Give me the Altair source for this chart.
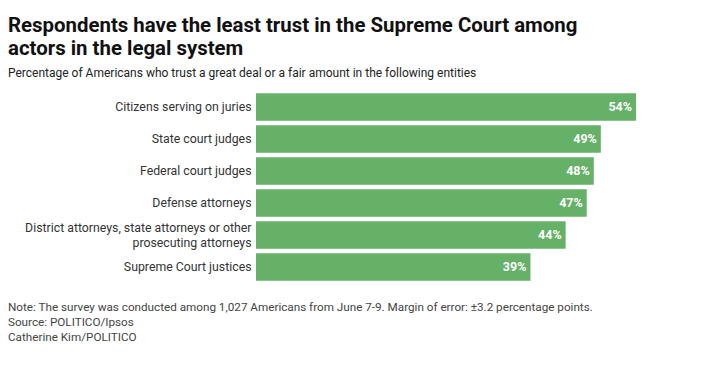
import altair as alt
import pandas as pd

FONT = "Roboto, sans-serif"

categories = [
    "Citizens serving on juries",
    "State court judges",
    "Federal court judges",
    "Defense attorneys",
    "District attorneys, state attorneys or other|prosecuting attorneys",
    "Supreme Court justices",
]
values = [54, 49, 48, 47, 44, 39]
value_labels = ["54%", "49%", "48%", "47%", "44%", "39%"]

title_lines = [
    "Respondents have the least trust in the Supreme Court among",
    "actors in the legal system",
]
subtitle = "Percentage of Americans who trust a great deal or a fair amount in the following entities"
footer_lines = [
    "Note: The survey was conducted among 1,027 Americans from June 7-9. Margin of error: \u00b13.2 percentage points.",
    "Source: POLITICO/Ipsos",
    "Catherine Kim/POLITICO",
]

df = pd.DataFrame({"category": categories, "value": values, "label": value_labels})

GREEN = "#65b168"

base = alt.Chart(df).encode(
    y=alt.Y(
        "category:N",
        sort=categories,
        scale=alt.Scale(paddingInner=0.14, paddingOuter=0.1),
        axis=alt.Axis(
            title=None,
            domain=False,
            ticks=False,
            grid=False,
            labelPadding=5,
            labelFont=FONT,
            labelFontSize=12.3,
            labelColor="#333333",
            labelLimit=400,
            labelLineHeight=15,
            labelExpr="split(datum.label, '|')",
            labelOffset={"condition": {"test": "indexof(datum.value, '|') >= 0", "value": -7}, "value": 0},
            minExtent=248,
            maxExtent=248,
        ),
    ),
    x=alt.X("value:Q", axis=None, scale=alt.Scale(domain=[0, 54], nice=False, zero=True)),
)

bars = base.mark_bar(color=GREEN)
texts = base.mark_text(
    align="right", baseline="middle", dx=-4, color="white",
    font=FONT, fontSize=12.5, fontWeight="bold",
).encode(text="label:N")

footer_layers = []
for i, line in enumerate(footer_lines):
    footer_layers.append(
        alt.Chart(pd.DataFrame({"t": [line]})).mark_text(
            align="left", baseline="alphabetic", font=FONT, fontSize=11.7, color="#444444",
        ).encode(text="t:N", x=alt.value(-248), y=alt.value(221 + 15 * i))
    )

chart = alt.layer(bars, texts, *footer_layers).properties(
    width=380,
    height=194,
    padding={"left": 0, "top": 8, "right": 5, "bottom": 5},
    title=alt.TitleParams(
        text=title_lines,
        subtitle=subtitle,
        anchor="start",
        frame="bounds",
        font=FONT,
        fontSize=20.4,
        fontWeight="bold",
        lineHeight=22.5,
        color="#111111",
        subtitleFont=FONT,
        subtitleFontSize=12,
        subtitleColor="#222222",
        subtitlePadding=9,
        offset=11,
    ),
).configure_view(stroke=None)

chart.save("out.html", embed_options={"renderer": "svg", "actions": False})
